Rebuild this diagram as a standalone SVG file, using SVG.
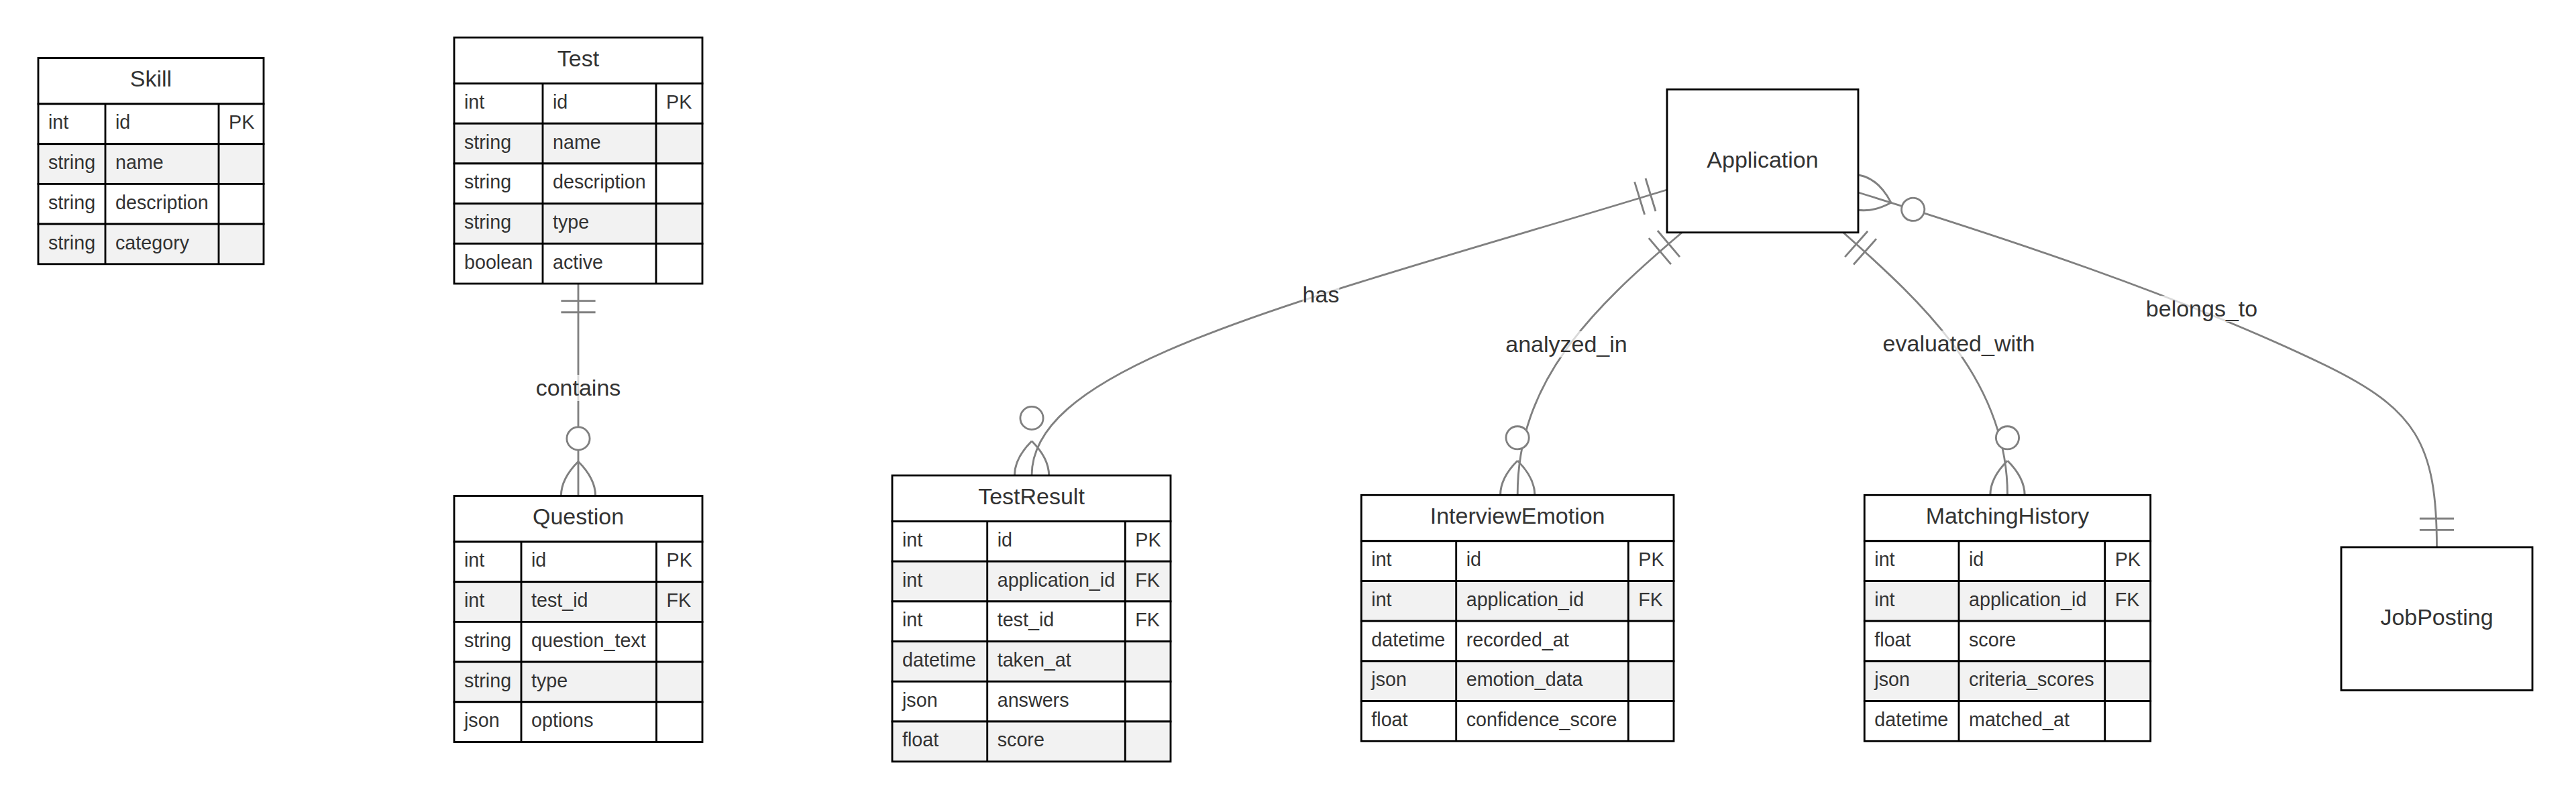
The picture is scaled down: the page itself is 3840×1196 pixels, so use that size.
<svg xmlns="http://www.w3.org/2000/svg" width="3840" height="1196" viewBox="0 0 3840 1196">
<style>
  text { font-family: "Liberation Sans", Arial, sans-serif; fill: #333; }
  .h { font-size: 34px; text-anchor: middle; }
  .t { font-size: 28.7px; }
  .lbl { font-size: 34px; text-anchor: middle; }
  .w { fill: #ffffff; stroke: #000; stroke-width: 2.85; }
  .g { fill: #f2f2f2; stroke: #000; stroke-width: 2.85; }
  .d { stroke: #000; stroke-width: 2.85; }
  .edge { fill: none; stroke: #808080; stroke-width: 2.85; }
  .lb { fill: #ffffff; opacity: 0.7; }
  .mk { fill: none; stroke: #808080; stroke-width: 2.85; }
  .mc { fill: #ffffff; stroke: #808080; stroke-width: 2.85; }
</style>
<defs>
  <marker id="one" markerUnits="userSpaceOnUse" orient="auto-start-reverse" overflow="visible" refX="0" refY="0" markerWidth="100" markerHeight="100">
    <path class="mk" d="M-25.6,-25.6 V25.6 M-42.75,-25.6 V25.6"/>
  </marker>
  <marker id="many" markerUnits="userSpaceOnUse" orient="auto-start-reverse" overflow="visible" refX="0" refY="0" markerWidth="100" markerHeight="100">
    <path class="mk" d="M-51.3,0 Q0,-51.3 51.3,0 M-51.3,0 Q0,51.3 51.3,0"/>
    <circle class="mc" cx="-85.5" cy="0" r="17.1"/>
  </marker>
</defs>
<rect x="0" y="0" width="3840" height="1196" fill="#ffffff"/>

<g id="connectors">
  <path class="edge" d="M862,423 L862,739.5" marker-start="url(#one)" marker-end="url(#many)"/>
  <rect class="lb" x="798.7" y="559" width="126.6" height="39"/>
  <text class="lbl" x="862" y="590">contains</text>

  <path class="edge" d="M2485,283 C1950,447 1538,540 1538,709" marker-start="url(#one)" marker-end="url(#many)"/>
  <rect class="lb" x="1941.6" y="420" width="54.8" height="39"/>
  <text class="lbl" x="1969" y="451">has</text>

  <path class="edge" d="M2507,347 C2370,463 2262,570 2262.2,738.3" marker-start="url(#one)" marker-end="url(#many)"/>
  <rect class="lb" x="2244.4" y="494" width="181.3" height="39"/>
  <text class="lbl" x="2335" y="525">analyzed_in</text>

  <path class="edge" d="M2748,347 C2870,455 2992.5,570 2992.5,738.3" marker-start="url(#one)" marker-end="url(#many)"/>
  <rect class="lb" x="2806.6" y="493" width="226.8" height="39"/>
  <text class="lbl" x="2920" y="524">evaluated_with</text>

  <path class="edge" d="M2770,287 C2980,352 3250,440 3467,545 C3600,610 3632.5,660 3632.5,816" marker-start="url(#many)" marker-end="url(#one)"/>
  <rect class="lb" x="3198.9" y="441" width="166.3" height="39"/>
  <text class="lbl" x="3282" y="472">belongs_to</text>
</g>

<g id="Skill">
  <rect class="w" x="57" y="86.5" width="336" height="68.5"/>
  <text class="h" x="225" y="129.25">Skill</text>
  <rect class="w" x="57" y="155" width="336" height="59.7"/>
  <rect class="g" x="57" y="214.7" width="336" height="59.7"/>
  <rect class="w" x="57" y="274.4" width="336" height="59.7"/>
  <rect class="g" x="57" y="334.1" width="336" height="59.7"/>
  <line class="d" x1="157" y1="155" x2="157" y2="393.8"/>
  <line class="d" x1="326" y1="155" x2="326" y2="393.8"/>
  <text class="t" x="72" y="192.45">int</text><text class="t" x="172" y="192.45">id</text><text class="t" x="341" y="192.45">PK</text>
  <text class="t" x="72" y="252.15">string</text><text class="t" x="172" y="252.15">name</text>
  <text class="t" x="72" y="311.85">string</text><text class="t" x="172" y="311.85">description</text>
  <text class="t" x="72" y="371.55">string</text><text class="t" x="172" y="371.55">category</text>
</g>

<g id="Test">
  <rect class="w" x="677" y="56" width="370" height="68.5"/>
  <text class="h" x="862" y="98.75">Test</text>
  <rect class="w" x="677" y="124.5" width="370" height="59.7"/>
  <rect class="g" x="677" y="184.2" width="370" height="59.7"/>
  <rect class="w" x="677" y="243.9" width="370" height="59.7"/>
  <rect class="g" x="677" y="303.6" width="370" height="59.7"/>
  <rect class="w" x="677" y="363.3" width="370" height="59.7"/>
  <line class="d" x1="809" y1="124.5" x2="809" y2="423"/>
  <line class="d" x1="978" y1="124.5" x2="978" y2="423"/>
  <text class="t" x="692" y="161.95">int</text><text class="t" x="824" y="161.95">id</text><text class="t" x="993" y="161.95">PK</text>
  <text class="t" x="692" y="221.65">string</text><text class="t" x="824" y="221.65">name</text>
  <text class="t" x="692" y="281.35">string</text><text class="t" x="824" y="281.35">description</text>
  <text class="t" x="692" y="341.05">string</text><text class="t" x="824" y="341.05">type</text>
  <text class="t" x="692" y="400.75">boolean</text><text class="t" x="824" y="400.75">active</text>
</g>

<g id="Question">
  <rect class="w" x="677" y="739.5" width="370" height="68.5"/>
  <text class="h" x="862" y="782.25">Question</text>
  <rect class="w" x="677" y="808" width="370" height="59.7"/>
  <rect class="g" x="677" y="867.7" width="370" height="59.7"/>
  <rect class="w" x="677" y="927.4" width="370" height="59.7"/>
  <rect class="g" x="677" y="987.1" width="370" height="59.7"/>
  <rect class="w" x="677" y="1046.8" width="370" height="59.7"/>
  <line class="d" x1="777" y1="808" x2="777" y2="1106.5"/>
  <line class="d" x1="978.5" y1="808" x2="978.5" y2="1106.5"/>
  <text class="t" x="692" y="845.45">int</text><text class="t" x="792" y="845.45">id</text><text class="t" x="993.5" y="845.45">PK</text>
  <text class="t" x="692" y="905.15">int</text><text class="t" x="792" y="905.15">test_id</text><text class="t" x="993.5" y="905.15">FK</text>
  <text class="t" x="692" y="964.85">string</text><text class="t" x="792" y="964.85">question_text</text>
  <text class="t" x="692" y="1024.55">string</text><text class="t" x="792" y="1024.55">type</text>
  <text class="t" x="692" y="1084.25">json</text><text class="t" x="792" y="1084.25">options</text>
</g>

<g id="TestResult">
  <rect class="w" x="1330" y="709" width="415" height="68.5"/>
  <text class="h" x="1537.5" y="751.75">TestResult</text>
  <rect class="w" x="1330" y="777.5" width="415" height="59.7"/>
  <rect class="g" x="1330" y="837.2" width="415" height="59.7"/>
  <rect class="w" x="1330" y="896.9" width="415" height="59.7"/>
  <rect class="g" x="1330" y="956.6" width="415" height="59.7"/>
  <rect class="w" x="1330" y="1016.3" width="415" height="59.7"/>
  <rect class="g" x="1330" y="1076" width="415" height="59.7"/>
  <line class="d" x1="1471.7" y1="777.5" x2="1471.7" y2="1135.7"/>
  <line class="d" x1="1677.3" y1="777.5" x2="1677.3" y2="1135.7"/>
  <text class="t" x="1345" y="814.95">int</text><text class="t" x="1486.7" y="814.95">id</text><text class="t" x="1692.3" y="814.95">PK</text>
  <text class="t" x="1345" y="874.65">int</text><text class="t" x="1486.7" y="874.65">application_id</text><text class="t" x="1692.3" y="874.65">FK</text>
  <text class="t" x="1345" y="934.35">int</text><text class="t" x="1486.7" y="934.35">test_id</text><text class="t" x="1692.3" y="934.35">FK</text>
  <text class="t" x="1345" y="994.05">datetime</text><text class="t" x="1486.7" y="994.05">taken_at</text>
  <text class="t" x="1345" y="1053.75">json</text><text class="t" x="1486.7" y="1053.75">answers</text>
  <text class="t" x="1345" y="1113.45">float</text><text class="t" x="1486.7" y="1113.45">score</text>
</g>

<g id="InterviewEmotion">
  <rect class="w" x="2029.3" y="738.3" width="465.7" height="68.5"/>
  <text class="h" x="2262.15" y="781.05">InterviewEmotion</text>
  <rect class="w" x="2029.3" y="806.8" width="465.7" height="59.7"/>
  <rect class="g" x="2029.3" y="866.5" width="465.7" height="59.7"/>
  <rect class="w" x="2029.3" y="926.2" width="465.7" height="59.7"/>
  <rect class="g" x="2029.3" y="985.9" width="465.7" height="59.7"/>
  <rect class="w" x="2029.3" y="1045.6" width="465.7" height="59.7"/>
  <line class="d" x1="2170.7" y1="806.8" x2="2170.7" y2="1105.3"/>
  <line class="d" x1="2427.3" y1="806.8" x2="2427.3" y2="1105.3"/>
  <text class="t" x="2044.3" y="844.25">int</text><text class="t" x="2185.7" y="844.25">id</text><text class="t" x="2442.3" y="844.25">PK</text>
  <text class="t" x="2044.3" y="903.95">int</text><text class="t" x="2185.7" y="903.95">application_id</text><text class="t" x="2442.3" y="903.95">FK</text>
  <text class="t" x="2044.3" y="963.65">datetime</text><text class="t" x="2185.7" y="963.65">recorded_at</text>
  <text class="t" x="2044.3" y="1023.35">json</text><text class="t" x="2185.7" y="1023.35">emotion_data</text>
  <text class="t" x="2044.3" y="1083.05">float</text><text class="t" x="2185.7" y="1083.05">confidence_score</text>
</g>

<g id="MatchingHistory">
  <rect class="w" x="2779.3" y="738.3" width="426.4" height="68.5"/>
  <text class="h" x="2992.5" y="781.05">MatchingHistory</text>
  <rect class="w" x="2779.3" y="806.8" width="426.4" height="59.7"/>
  <rect class="g" x="2779.3" y="866.5" width="426.4" height="59.7"/>
  <rect class="w" x="2779.3" y="926.2" width="426.4" height="59.7"/>
  <rect class="g" x="2779.3" y="985.9" width="426.4" height="59.7"/>
  <rect class="w" x="2779.3" y="1045.6" width="426.4" height="59.7"/>
  <line class="d" x1="2920" y1="806.8" x2="2920" y2="1105.3"/>
  <line class="d" x1="3137.7" y1="806.8" x2="3137.7" y2="1105.3"/>
  <text class="t" x="2794.3" y="844.25">int</text><text class="t" x="2935" y="844.25">id</text><text class="t" x="3152.7" y="844.25">PK</text>
  <text class="t" x="2794.3" y="903.95">int</text><text class="t" x="2935" y="903.95">application_id</text><text class="t" x="3152.7" y="903.95">FK</text>
  <text class="t" x="2794.3" y="963.65">float</text><text class="t" x="2935" y="963.65">score</text>
  <text class="t" x="2794.3" y="1023.35">json</text><text class="t" x="2935" y="1023.35">criteria_scores</text>
  <text class="t" x="2794.3" y="1083.05">datetime</text><text class="t" x="2935" y="1083.05">matched_at</text>
</g>

<g id="Application">
  <rect class="w" x="2485" y="133.3" width="285" height="213.4"/>
  <text class="h" x="2627.5" y="249.5">Application</text>
</g>

<g id="JobPosting">
  <rect class="w" x="3490" y="816" width="285" height="213.4"/>
  <text class="h" x="3632.5" y="931.7">JobPosting</text>
</g>
</svg>
